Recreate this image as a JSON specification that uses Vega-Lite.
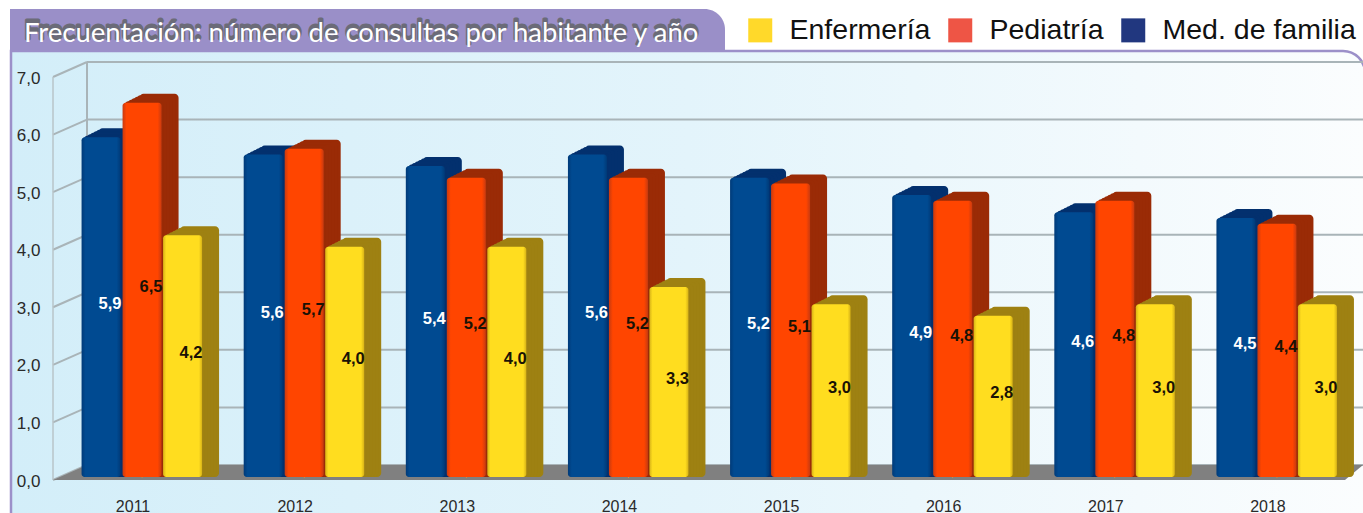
{"$schema":"https://vega.github.io/schema/vega-lite/v6.json","autosize":"none","width":1297,"height":403,"padding":{"left":61,"top":74,"right":5,"bottom":36},"background":"white",
"config":{"view":{"stroke":null},"axisY":{"format":".1f","labelOffset":4,"labelPadding":21,"ticks":false,"domain":false,"grid":false,"labelFont":"Liberation Sans","labelFontSize":17,"labelColor":"#2a2a2a"},"locale":{"number":{"decimal":",","thousands":".","grouping":[3],"currency":["","€"]}}},
"title":{"text":"Frecuentación: número de consultas por habitante y año","anchor":"start","frame":"group","dx":-37,"dy":25,"offset":-13,"font":"Lato","fontSize":27.5,"fontWeight":"normal","color":"white"},
"datasets":{"ticks":[{"t":0},{"t":1},{"t":2},{"t":3},{"t":4},{"t":5},{"t":6},{"t":7}],"one":[{"k":1}],
"rows":[{"anio":"2011","serie":"Med. de familia","v":5.9},{"anio":"2011","serie":"Pediatría","v":6.5},{"anio":"2011","serie":"Enfermería","v":4.2},{"anio":"2012","serie":"Med. de familia","v":5.6},{"anio":"2012","serie":"Pediatría","v":5.7},{"anio":"2012","serie":"Enfermería","v":4.0},{"anio":"2013","serie":"Med. de familia","v":5.4},{"anio":"2013","serie":"Pediatría","v":5.2},{"anio":"2013","serie":"Enfermería","v":4.0},{"anio":"2014","serie":"Med. de familia","v":5.6},{"anio":"2014","serie":"Pediatría","v":5.2},{"anio":"2014","serie":"Enfermería","v":3.3},{"anio":"2015","serie":"Med. de familia","v":5.2},{"anio":"2015","serie":"Pediatría","v":5.1},{"anio":"2015","serie":"Enfermería","v":3.0},{"anio":"2016","serie":"Med. de familia","v":4.9},{"anio":"2016","serie":"Pediatría","v":4.8},{"anio":"2016","serie":"Enfermería","v":2.8},{"anio":"2017","serie":"Med. de familia","v":4.6},{"anio":"2017","serie":"Pediatría","v":4.8},{"anio":"2017","serie":"Enfermería","v":3.0},{"anio":"2018","serie":"Med. de familia","v":4.5},{"anio":"2018","serie":"Pediatría","v":4.4},{"anio":"2018","serie":"Enfermería","v":3.0}]},
"layer":[
{"data":{"name":"one"},"mark":{"type":"rect","fill":{"gradient":"linear","x1":0,"y1":0,"x2":1,"y2":0,"stops":[{"offset":0,"color":"#d3eef9"},{"offset":0.5,"color":"#e3f4fb"},{"offset":1,"color":"#fbfdfe"}]},"stroke":"#9c90c9","strokeWidth":2.5,"cornerRadiusTopRight":22},"encoding":{"x":{"value":-50},"x2":{"value":1304},"y":{"value":-23},"y2":{"value":470}}},
{"data":{"name":"one"},"mark":{"type":"rect","fill":"#9a8fc8","cornerRadiusTopRight":28},"encoding":{"x":{"value":-51},"x2":{"value":664},"y":{"value":-65},"y2":{"value":-24}}},
{"data":{"name":"ticks"},"mark":{"type":"rule","color":"#a9b4b8","strokeWidth":2,"yOffset":-12},"encoding":{"x":{"value":26},"x2":{"value":1302},"y":{"field":"t","type":"quantitative","title":null,"axis":{"zindex":1,"values":[0,1,2,3,4,5,6,7]},"scale":{"domain":[0,7],"nice":false}}}},
{"data":{"name":"ticks"},"mark":{"type":"rule","color":"#a9b4b8","strokeWidth":2,"yOffset":3,"y2Offset":-12},"encoding":{"x":{"value":-8},"x2":{"value":26},"y":{"field":"t","type":"quantitative","title":null},"y2":{"field":"t"}}},
{"data":{"name":"one"},"mark":{"type":"rule","color":"#a9b4b8","strokeWidth":2,"yOffset":-12,"y2Offset":-12},"encoding":{"x":{"value":26},"y":{"datum":0,"type":"quantitative","title":null},"y2":{"datum":7}}},
{"data":{"name":"one"},"mark":{"type":"rule","color":"#b9c4c8","strokeWidth":1.5,"yOffset":3,"y2Offset":3},"encoding":{"x":{"value":-8},"y":{"datum":0,"type":"quantitative","title":null},"y2":{"datum":7}}},
{"data":{"name":"one"},"mark":{"type":"point","shape":"M-8,3L26,-12L1302,-12L1284,3Z","size":4,"filled":true,"fill":"#808080","opacity":1},"encoding":{"x":{"value":0},"y":{"datum":0,"type":"quantitative","title":null}}},
{"data":{"name":"one"},"mark":{"type":"text","text":"Frecuentación: número de consultas por habitante y año","align":"left","baseline":"alphabetic","font":"Lato","fontSize":27.5,"stroke":"#6b6b78","strokeWidth":3,"fill":"#6b6b78","strokeJoin":"round"},"encoding":{"x":{"value":-37},"y":{"value":-35}}},
{"data":{"name":"rows"},
"encoding":{"x":{"field":"anio","type":"nominal","title":null,"scale":{"paddingInner":0,"paddingOuter":0},"axis":{"zindex":1,"labelAngle":0,"labelOffset":-9,"labelPadding":21,"ticks":false,"domain":false,"grid":false,"labelFont":"Liberation Sans","labelFontSize":16,"labelColor":"#2a2a2a"}},
"y":{"field":"v","type":"quantitative","title":null,"stack":null}},
"layer":[
{"mark":{"type":"square","size":1,"opacity":1},"encoding":{"y":{"datum":0,"type":"quantitative","title":null},"color":{"field":"serie","type":"nominal","scale":{"domain":["Enfermería","Pediatría","Med. de familia"],"range":["#ffd92a","#ee5545","#21377f"]},"legend":{"title":null,"orient":"none","legendX":685,"legendY":-58,"direction":"horizontal","columns":3,"symbolType":"square","symbolSize":576,"symbolStrokeWidth":0,"symbolOpacity":1,"labelFont":"Liberation Sans","labelFontSize":28.5,"labelLimit":400,"labelColor":"#111111","labelOffset":15,"columnPadding":15}}}},
{"transform":[{"filter":"datum.serie==='Med. de familia'"}],"layer":[
{"mark":{"type":"bar","color":"#03306e","cornerRadius":4,"width":39,"xOffset":-24,"yOffset":-9,"y2Offset":-9}},
{"mark":{"type":"bar","color":"#03306e","cornerRadius":4,"width":39,"xOffset":-27,"yOffset":-7.5,"y2Offset":-7.5}},
{"mark":{"type":"bar","color":"#03306e","cornerRadius":4,"width":39,"xOffset":-30,"yOffset":-6,"y2Offset":-6}},
{"mark":{"type":"bar","color":"#03306e","cornerRadius":4,"width":39,"xOffset":-33,"yOffset":-4.5,"y2Offset":-4.5}},
{"mark":{"type":"bar","color":"#03306e","cornerRadius":4,"width":39,"xOffset":-36,"yOffset":-3,"y2Offset":-3}},
{"mark":{"type":"bar","color":"#03306e","cornerRadius":4,"width":39,"xOffset":-39,"yOffset":-1.5,"y2Offset":-1.5}},
{"mark":{"type":"bar","cornerRadius":3,"width":39,"xOffset":-41,"color":{"gradient":"linear","x1":0,"y1":0,"x2":1,"y2":0,"stops":[{"offset":0,"color":"#003a78"},{"offset":0.1,"color":"#004a91"},{"offset":0.9,"color":"#004a91"},{"offset":1,"color":"#003a78"}]}}}]},
{"transform":[{"filter":"datum.serie==='Pediatría'"}],"layer":[
{"mark":{"type":"bar","color":"#9a2b06","cornerRadius":4,"width":39,"xOffset":17,"yOffset":-9,"y2Offset":-9}},
{"mark":{"type":"bar","color":"#9a2b06","cornerRadius":4,"width":39,"xOffset":14,"yOffset":-7.5,"y2Offset":-7.5}},
{"mark":{"type":"bar","color":"#9a2b06","cornerRadius":4,"width":39,"xOffset":11,"yOffset":-6,"y2Offset":-6}},
{"mark":{"type":"bar","color":"#9a2b06","cornerRadius":4,"width":39,"xOffset":8,"yOffset":-4.5,"y2Offset":-4.5}},
{"mark":{"type":"bar","color":"#9a2b06","cornerRadius":4,"width":39,"xOffset":5,"yOffset":-3,"y2Offset":-3}},
{"mark":{"type":"bar","color":"#9a2b06","cornerRadius":4,"width":39,"xOffset":2,"yOffset":-1.5,"y2Offset":-1.5}},
{"mark":{"type":"bar","cornerRadius":3,"width":39,"xOffset":0,"color":{"gradient":"linear","x1":0,"y1":0,"x2":1,"y2":0,"stops":[{"offset":0,"color":"#c83a10"},{"offset":0.1,"color":"#ff4500"},{"offset":0.9,"color":"#ff4500"},{"offset":1,"color":"#c83a10"}]}}}]},
{"transform":[{"filter":"datum.serie==='Enfermería'"}],"layer":[
{"mark":{"type":"bar","color":"#9e8112","cornerRadius":4,"width":39,"xOffset":57.5,"yOffset":-9,"y2Offset":-9}},
{"mark":{"type":"bar","color":"#9e8112","cornerRadius":4,"width":39,"xOffset":54.5,"yOffset":-7.5,"y2Offset":-7.5}},
{"mark":{"type":"bar","color":"#9e8112","cornerRadius":4,"width":39,"xOffset":51.5,"yOffset":-6,"y2Offset":-6}},
{"mark":{"type":"bar","color":"#9e8112","cornerRadius":4,"width":39,"xOffset":48.5,"yOffset":-4.5,"y2Offset":-4.5}},
{"mark":{"type":"bar","color":"#9e8112","cornerRadius":4,"width":39,"xOffset":45.5,"yOffset":-3,"y2Offset":-3}},
{"mark":{"type":"bar","color":"#9e8112","cornerRadius":4,"width":39,"xOffset":42.5,"yOffset":-1.5,"y2Offset":-1.5}},
{"mark":{"type":"bar","cornerRadius":3,"width":39,"xOffset":40.5,"color":{"gradient":"linear","x1":0,"y1":0,"x2":1,"y2":0,"stops":[{"offset":0,"color":"#d7b217"},{"offset":0.08,"color":"#ffdd1f"},{"offset":0.92,"color":"#ffdd1f"},{"offset":1,"color":"#d7b217"}]}}}]},
{"transform":[{"calculate":"datum.v/2","as":"mid"}],"encoding":{"y":{"field":"mid","type":"quantitative"},"text":{"field":"v","type":"quantitative","format":".1f"}},"layer":[
{"transform":[{"filter":"datum.serie==='Med. de familia'"}],"mark":{"type":"text","xOffset":-32,"dy":-3,"fontWeight":"bold","font":"Liberation Sans","fontSize":16.5,"color":"#ffffff"}},
{"transform":[{"filter":"datum.serie==='Pediatría'"}],"mark":{"type":"text","xOffset":9,"dy":-3,"fontWeight":"bold","font":"Liberation Sans","fontSize":16.5,"color":"#1a1205"}},
{"transform":[{"filter":"datum.serie==='Enfermería'"}],"mark":{"type":"text","xOffset":49,"dy":-3,"fontWeight":"bold","font":"Liberation Sans","fontSize":16.5,"color":"#1a1205"}}
]}
]}
]}
